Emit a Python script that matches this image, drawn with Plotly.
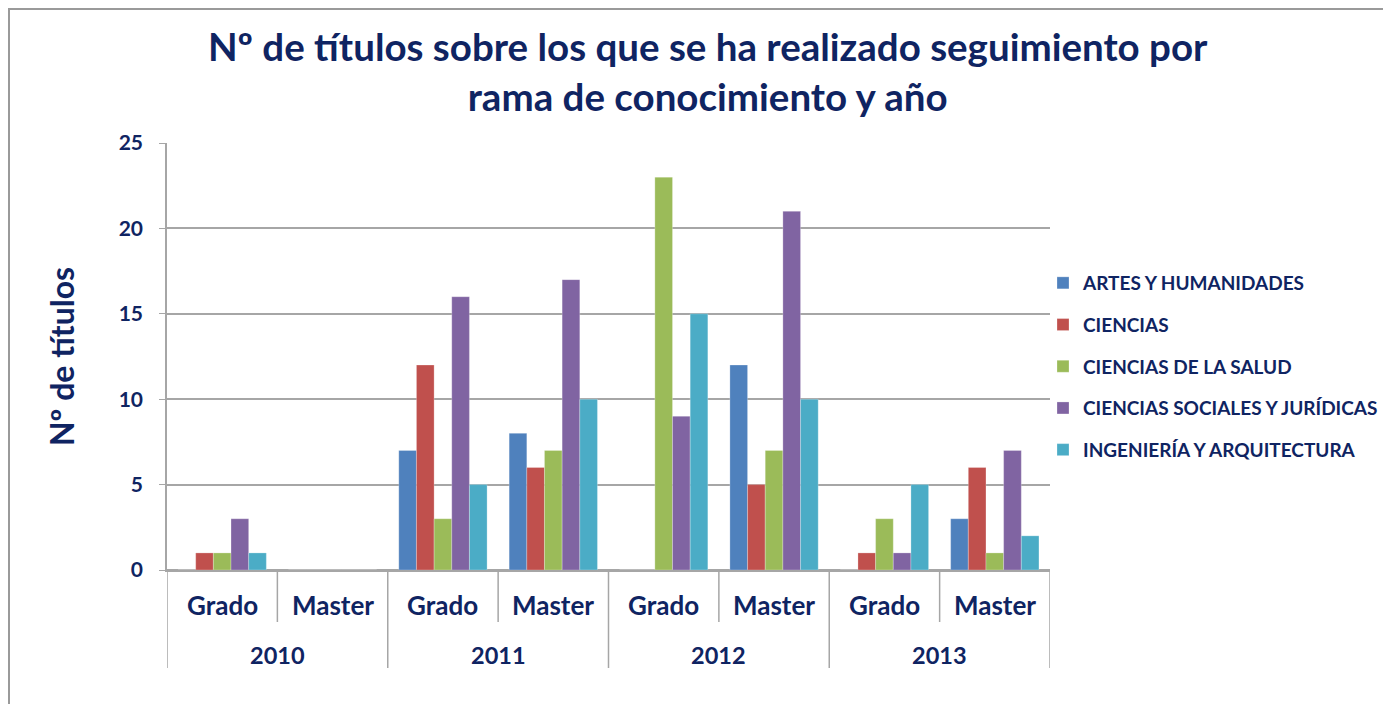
import plotly.graph_objects as go

years = ["2010", "2010", "2011", "2011", "2012", "2012", "2013", "2013"]
levels = ["Grado", "Master", "Grado", "Master", "Grado", "Master", "Grado", "Master"]

series_names = [
    "ARTES Y HUMANIDADES",
    "CIENCIAS",
    "CIENCIAS DE LA SALUD",
    "CIENCIAS SOCIALES Y JURÍDICAS",
    "INGENIERÍA Y ARQUITECTURA",
]
artes = [0, 0, 7, 8, 0, 12, 0, 3]
ciencias = [1, 0, 12, 6, 0, 5, 1, 6]
salud = [1, 0, 3, 7, 23, 7, 3, 1]
sociales = [3, 0, 16, 17, 9, 21, 1, 7]
ingenieria = [1, 0, 5, 10, 15, 10, 5, 2]
series_values = [artes, ciencias, salud, sociales, ingenieria]
colors = ["#4F81BD", "#C0504D", "#9BBB59", "#8064A2", "#4BACC6"]
y_ticks = [0, 5, 10, 15, 20, 25]

NAVY = "#0f2462"
GRID = "#a6a6a6"
FONT = "Lato"

cat_ids = [f"{y} {l}" for y, l in zip(years, levels)]

fig = go.Figure()
for i, (name, vals, col) in enumerate(zip(series_names, series_values, colors)):
    fig.add_trace(go.Bar(
        x=cat_ids, y=vals, name=name,
        marker=dict(color=col, line=dict(color="rgba(255,255,255,0.5)", width=0.5)),
        legendgroup=f"g{i}",
    ))

# page body margin offsets the figure by 8px in the screenshot
OFF = 8
W, H = 1391, 704
ml = 167 - OFF
mt = 143 - OFF
mb = H - (570 - OFF)
mr = W - (1050 - OFF)
pw, ph = W - ml - mr, H - mt - mb


def py(pic):
    """screenshot pixel row -> paper y"""
    return (H - mb - (pic - OFF)) / ph


def px(pic):
    return (pic - OFF - ml) / pw


annotations = []
for i, lv in enumerate(levels):
    annotations.append(dict(
        x=i, xref="x", y=py(605), yref="paper", text=f"<b>{lv}</b>",
        showarrow=False, xanchor="center", yanchor="middle",
        font=dict(size=26, color=NAVY, family=FONT),
    ))
uniq_years = list(dict.fromkeys(years))
for yr in uniq_years:
    idx = [i for i, y in enumerate(years) if y == yr]
    annotations.append(dict(
        x=(idx[0] + idx[-1]) / 2, xref="x", y=py(655), yref="paper", text=f"<b>{yr}</b>",
        showarrow=False, xanchor="center", yanchor="middle",
        font=dict(size=23.5, color=NAVY, family=FONT),
    ))

shapes = []
n = len(cat_ids)
for b in range(n + 1):
    pos = b - 0.5
    is_year_break = b == 0 or b == n or years[b] != years[b - 1]
    shapes.append(dict(
        type="line", xref="x", yref="paper", x0=pos, x1=pos,
        y0=0, y1=py(668 if is_year_break else 622),
        line=dict(color=GRID, width=1.5),
    ))
shapes.append(dict(
    type="rect", xref="paper", yref="paper",
    x0=px(OFF + 1), x1=px(W + 20), y0=py(H + 20), y1=py(OFF + 1),
    line=dict(color="#9a9a9a", width=2), fillcolor="rgba(0,0,0,0)", layer="below",
))

fig.update_layout(
    width=W, height=H,
    margin=dict(l=ml, r=mr, t=mt, b=mb, autoexpand=False),
    paper_bgcolor="white", plot_bgcolor="white",
    barmode="group", bargap=0.2, bargroupgap=0,
    font=dict(family=FONT, color=NAVY),
    showlegend=True,
    title=dict(
        text="<b>Nº de títulos sobre los que se ha realizado seguimiento por<br>rama de conocimiento y año</b>",
        x=0.503, xanchor="center", y=0.925, yanchor="top", yref="container",
        font=dict(size=38.5, color=NAVY, family=FONT),
        automargin=False,
    ),
    legend=dict(
        x=px(1043), xanchor="left",
        y=py(264), yanchor="top",
        font=dict(size=19, color=NAVY, family=FONT, weight="bold"),
        traceorder="grouped", tracegroupgap=14,
        itemwidth=30, bgcolor="rgba(0,0,0,0)",
    ),
    yaxis=dict(
        range=[0, 25], tickvals=y_ticks, automargin=False,
        showgrid=True, gridcolor=GRID, gridwidth=1.5,
        zeroline=True, zerolinecolor=GRID, zerolinewidth=1.5,
        showline=True, linecolor=GRID, linewidth=1.5,
        ticks="outside", tickcolor=GRID, ticklen=6,
        ticklabelstandoff=12,
        tickfont=dict(size=21, color=NAVY, family=FONT, weight="bold"),
        title=dict(text="<b>Nº de títulos</b>", font=dict(size=32, color=NAVY, family=FONT), standoff=34),
    ),
    xaxis=dict(
        type="category", categoryarray=cat_ids, categoryorder="array",
        showticklabels=False, automargin=False,
        showline=True, linecolor=GRID, linewidth=1.5,
        range=[-0.5, n - 0.5],
    ),
    annotations=annotations,
    shapes=shapes,
)

fig.write_html("out.html")
